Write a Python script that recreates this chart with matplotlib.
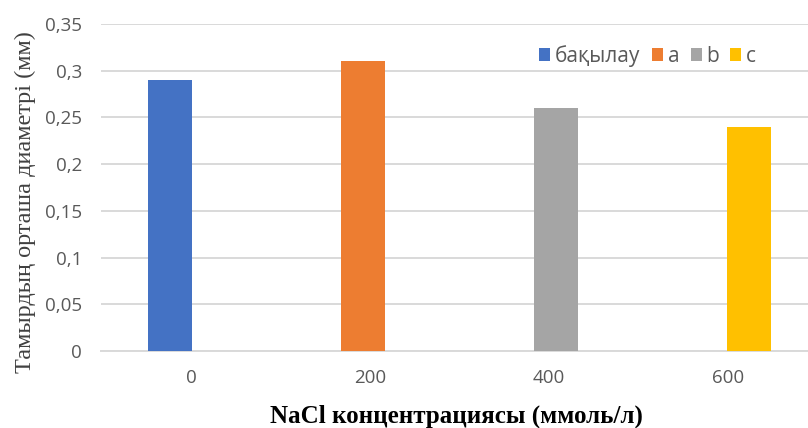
import numpy as np
import matplotlib
matplotlib.use("Agg")
import matplotlib.pyplot as plt
from matplotlib.patches import Patch

categories = ["0", "200", "400", "600"]
series_names = ["бақылау", "a", "b", "c"]
control = [0.29, np.nan, np.nan, np.nan]
group_a = [np.nan, 0.31, np.nan, np.nan]
group_b = [np.nan, np.nan, 0.26, np.nan]
group_c = [np.nan, np.nan, np.nan, 0.24]
y_ticks = [0, 0.05, 0.1, 0.15, 0.2, 0.25, 0.3, 0.35]
y_tick_labels = ["0", "0,05", "0,1", "0,15", "0,2", "0,25", "0,3", "0,35"]

colors = ["#4472C4", "#ED7D31", "#A5A5A5", "#FFC000"]
tick_color = "#595959"
grid_color = "#D9D9D9"

fig = plt.figure(figsize=(8.08, 4.28), dpi=100)
ax = fig.add_axes([0.1256, 0.1799, 0.8861, 0.7640])

x = np.arange(len(categories))
bar_w = 0.246
step = 0.078
for i, (vals, name, col) in enumerate(zip([control, group_a, group_b, group_c],
                                          series_names, colors)):
    ax.bar(x + (i - 1.5) * step, vals, width=bar_w, color=col, zorder=3, label=name)

ax.set_xlim(-0.5, 3.5)
ax.set_ylim(0, 0.35)
ax.set_yticks(y_ticks)
ax.set_yticklabels(y_tick_labels)
ax.set_xticks(x)
ax.set_xticklabels(categories)

ax.grid(axis="y", color=grid_color, linewidth=1.4, zorder=0)
for s in ["top", "right", "left"]:
    ax.spines[s].set_visible(False)
ax.spines["bottom"].set_color(grid_color)
ax.spines["bottom"].set_linewidth(1.4)
ax.tick_params(axis="both", length=0, colors=tick_color, labelsize=13.5)
ax.tick_params(axis="x", pad=13)
ax.tick_params(axis="y", pad=14)
for lbl in ax.get_xticklabels() + ax.get_yticklabels():
    lbl.set_fontfamily("Open Sans")

ax.set_ylabel("Тамырдың орташа диаметрі (мм)", fontfamily="Liberation Serif",
              fontsize=17.5, color="#404040")
ax.yaxis.set_label_coords(-0.092, 0.456)

fig.text(0.565, 0.0117, "NaCl концентрациясы (ммоль/л)", fontfamily="Liberation Serif",
         fontsize=18, fontweight="bold", color="black", ha="center", va="baseline")

handles = [Patch(facecolor=c, edgecolor="none") for c in colors]
leg = ax.legend(handles, series_names, loc="center", bbox_to_anchor=(0.763, 0.902),
                ncol=4, frameon=False, handlelength=0.53, handleheight=0.53,
                handletextpad=0.22, columnspacing=0.55, borderpad=0, borderaxespad=0,
                prop={"family": "Open Sans", "size": 15})
for t in leg.get_texts():
    t.set_color(tick_color)

fig.savefig("out.png", dpi=100)
